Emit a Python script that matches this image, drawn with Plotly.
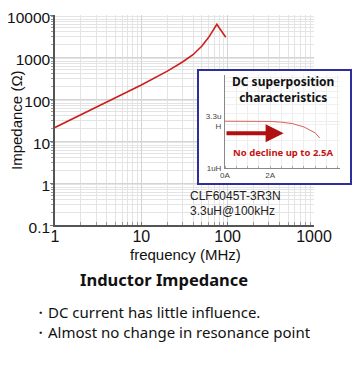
import plotly.graph_objects as go

# page body has an 8px margin; figure is sized to fit the window
OFF = 8
W, H = 355, 357

# Main impedance curve data (MHz, Ohm)
freq_mhz = [1, 2, 5, 10, 20, 30, 40, 50, 60, 65, 70, 75, 80, 85, 90, 95]
impedance = [21, 42, 105, 215, 460, 760, 1150, 1800, 2900, 3700, 4900, 6000, 4900, 4000, 3400, 2950]

x_tickvals = [1, 10, 100, 1000]
x_ticktext = ["1", "10", "100", "1000"]
y_tickvals = [0.1, 1, 10, 100, 1000, 10000]
y_ticktext = ["0.1", "1", "10", "100", "1000", "10000"]

# Inset: DC superposition characteristics (A, uH)
dc_current = [0, 0.5, 1, 1.5, 2, 2.5, 3, 3.5, 4, 4.2]
inductance = [3.3, 3.3, 3.3, 3.3, 3.28, 3.22, 3.1, 2.85, 2.45, 2.15]
inset_xtickvals = [0, 2]
inset_xticktext = ["0A", "2A"]
inset_ytickvals = [1, 3.3]
inset_yticktext = ["1uH", "3.3u<br>H"]


def px(x):
    return (x - OFF) / W


def py(y):
    return 1 - (y - OFF) / H


fig = go.Figure()

fig.add_trace(go.Scatter(x=freq_mhz, y=impedance, mode="lines",
                         line=dict(color="#cc1f1f", width=1.6),
                         xaxis="x", yaxis="y", showlegend=False, hoverinfo="skip"))

# white background of the inset box (covers main plot)
fig.add_trace(go.Scatter(x=[0, 1, 1, 0, 0], y=[0, 0, 1, 1, 0], mode="lines",
                         fill="toself", fillcolor="white", line=dict(width=0),
                         xaxis="x2", yaxis="y2", showlegend=False, hoverinfo="skip"))

fig.add_trace(go.Scatter(x=dc_current, y=inductance, mode="lines",
                         line=dict(color="#d9605a", width=1),
                         xaxis="x3", yaxis="y3", showlegend=False, hoverinfo="skip"))

tickfont = dict(family="Liberation Sans, Arial, sans-serif", size=16, color="#111")
ytickfont = dict(family="Liberation Sans, Arial, sans-serif", size=15.5, color="#111")
small = dict(family="Liberation Sans, Arial", size=8, color="#444")

fig.update_layout(
    template="none",
    width=W, height=H,
    margin=dict(l=0, r=0, t=0, b=0, autoexpand=False),
    paper_bgcolor="white", plot_bgcolor="white",
    showlegend=False,
    xaxis=dict(type="log", range=[0, 3], domain=[px(55), px(314)], automargin=False,
               tickvals=x_tickvals, ticktext=x_ticktext, tickfont=tickfont,
               showgrid=True, gridcolor="#d4d4d4", gridwidth=1,
               showline=True, linecolor="#555", linewidth=1.5,
               ticks="inside", ticklen=3, tickcolor="#777",
               minor=dict(dtick="D1", showgrid=True, gridcolor="#e4e4e4",
                          ticks="inside", ticklen=3, tickcolor="#999"),
               zeroline=False, anchor="y", ticklabelstandoff=-4, ticklabeloverflow="allow"),
    yaxis=dict(type="log", range=[-1, 4], domain=[py(225), py(15)], automargin=False,
               tickvals=y_tickvals, ticktext=y_ticktext, tickfont=ytickfont,
               showgrid=True, gridcolor="#d4d4d4", gridwidth=1,
               showline=True, linecolor="#555", linewidth=1.5,
               ticks="outside", ticklen=3, tickcolor="#777",
               minor=dict(dtick="D1", showgrid=True, gridcolor="#e4e4e4",
                          ticks="outside", ticklen=2, tickcolor="#999"),
               zeroline=False, anchor="x", ticklabelstandoff=-3, ticklabelshift=3,
               ticklabeloverflow="allow"),
    xaxis2=dict(range=[0, 1], domain=[px(199), px(350)], anchor="y2", automargin=False,
                showgrid=False, zeroline=False, showticklabels=False, ticks="",
                showline=True, mirror=True, linecolor="#2e2e9e", linewidth=1.5),
    yaxis2=dict(range=[0, 1], domain=[py(183), py(71)], anchor="x2", automargin=False,
                showgrid=False, zeroline=False, showticklabels=False, ticks="",
                showline=True, mirror=True, linecolor="#2e2e9e", linewidth=1.5),
    xaxis3=dict(range=[0, 5.1], domain=[px(225), px(340)], anchor="y3", automargin=False,
                tickvals=inset_xtickvals, ticktext=inset_xticktext, tickfont=small,
                showgrid=True, gridcolor="#ededed",
                minor=dict(dtick=0.5, showgrid=True, gridcolor="#ededed",
                           ticks="inside", ticklen=2, tickcolor="#aaa"),
                showline=True, linecolor="#888", linewidth=1, zeroline=False,
                ticks="", ticklabelstandoff=-1),
    yaxis3=dict(type="log", range=[0, 1.03], domain=[py(168), py(75)], anchor="x3", automargin=False,
                tickvals=inset_ytickvals, ticktext=inset_yticktext, tickfont=small,
                showgrid=True, gridcolor="#ededed",
                minor=dict(dtick="D1", showgrid=True, gridcolor="#f0f0f0"),
                showline=True, linecolor="#888", linewidth=1, zeroline=False,
                ticks="", ticklabelstandoff=1),
)

ann_font = "Noto Sans, sans-serif"
axis_title_font = dict(family="Liberation Sans, Arial, sans-serif", size=15, color="#111")
annotations = [
    dict(x=px(185), y=py(254), text="frequency (MHz)", font=axis_title_font),
    dict(x=px(16), y=py(120), text="Impedance (Ω)", textangle=-90, font=axis_title_font),
    dict(x=px(283), y=py(90), text="<b>DC superposition<br>characteristics</b>",
         font=dict(family=ann_font, size=12, color="#111")),
    dict(x=px(283), y=py(152), text="<b>No decline up to 2.5A</b>", font=dict(family=ann_font, size=9.5, color="#c41414")),
    dict(x=px(188), y=py(196), text="CLF6045T-3R3N", xanchor="left",
         font=dict(family="Liberation Sans, Arial", size=12, color="#222")),
    dict(x=px(188), y=py(211), text="3.3uH@100kHz", xanchor="left",
         font=dict(family="Liberation Sans, Arial", size=12, color="#222")),
    dict(x=px(164), y=py(279), text="<b>Inductor Impedance</b>", font=dict(family=ann_font, size=16.5, color="#111")),
    dict(x=px(31), y=py(312), text="・DC current has little influence.", xanchor="left", align="left",
         font=dict(family=ann_font, size=15, color="#111")),
    dict(x=px(31), y=py(332), text="・Almost no change in resonance point", xanchor="left", align="left",
         font=dict(family=ann_font, size=15, color="#111")),
]
for a in annotations:
    a.update(xref="paper", yref="paper", showarrow=False, yanchor="middle")
    a.setdefault("xanchor", "center")
    fig.add_annotation(**a)

# red arrow in the inset
fig.add_annotation(x=2.6, y=0.386, ax=0.0, ay=0.386, xref="x3", yref="y3", axref="x3", ayref="y3",
                   showarrow=True, arrowhead=2, arrowsize=0.9, arrowwidth=4, arrowcolor="#b01010", text="")

fig.write_html("out.html")
